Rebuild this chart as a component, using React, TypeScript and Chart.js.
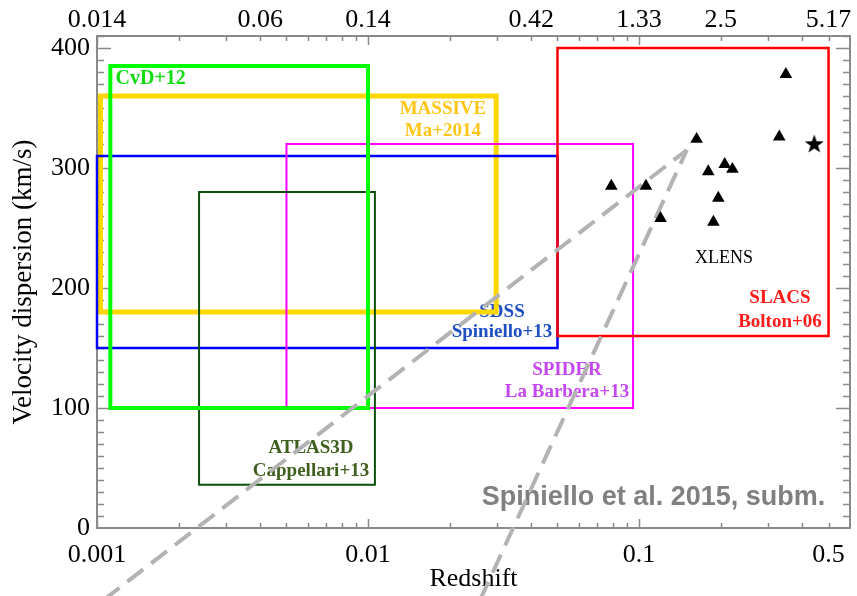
import React, { useEffect, useRef } from 'react';
import { Chart, registerables } from 'chart.js';

Chart.register(...registerables);

// ---------- axis ticks ----------
const xTickValues = [0.001, 0.01, 0.1, 0.5];
const xTickLabels = ['0.001', '0.01', '0.1', '0.5'];
const topTickValues = [0.001, 0.004, 0.01, 0.04, 0.1, 0.2, 0.5];
const topTickLabels = ['0.014', '0.06', '0.14', '0.42', '1.33', '2.5', '5.17'];
const yTickValues = [0, 100, 200, 300, 400];
const xDecades = [0.001, 0.01, 0.1];
const yMinorStep = 10;

// ---------- survey boxes ----------
const surveyNames = ['MASSIVE', 'SDSS', 'SPIDER', 'ATLAS3D', 'SLACS', 'CvD+12'];
const surveyZMin = [0.00103, 0.001, 0.005, 0.00238, 0.05, 0.00112];
const surveyZMax = [0.0297, 0.05, 0.095, 0.0106, 0.5, 0.01];
const surveySigmaMin = [180, 150, 100, 36, 160, 100];
const surveySigmaMax = [360, 310, 320, 280, 400, 385];
const surveyColors = ['#ffd700', '#0000ff', '#ff00ff', '#0b4f0b', '#ff0000', '#00ff00'];
const surveyWidths = [5, 2.5, 2, 2, 2.5, 4];

// ---------- XLENS lenses ----------
const lensZ = [0.079, 0.106, 0.12, 0.163, 0.18, 0.207, 0.221, 0.196, 0.188, 0.329, 0.348];
const lensSigma = [285, 285, 258, 324, 297, 303, 299, 275, 255, 326, 378];
const starZ = [0.443];
const starSigma = [320];

// ---------- dashed guide lines ----------
const guideAZ = [0.001058, 0.15];
const guideASigma = [-60, 315];
const guideBZ = [0.0259, 0.15];
const guideBSigma = [-60, 315];

// ---------- text labels ----------
const labelTexts = ['CvD+12', 'MASSIVE', 'Ma+2014', 'SDSS', 'Spiniello+13', 'SPIDER', 'La Barbera+13',
  'SLACS', 'Bolton+06', 'ATLAS3D', 'Cappellari+13', 'XLENS', 'Spiniello et al. 2015, subm.'];
const labelZ = [0.00117, 0.0189, 0.0189, 0.0312, 0.0312, 0.0542, 0.0542, 0.331, 0.331, 0.00616, 0.00616, 0.2056, 0.113];
const labelSigma = [374, 349, 331, 180, 163, 132, 113, 192, 172, 67, 47.5, 225, 25];
const labelColors = ['#11dd11', '#ffc61a', '#ffc61a', '#1f4fc4', '#1f4fc4', '#c447f2', '#c447f2',
  '#ff1a1a', '#ff1a1a', '#3f5f1f', '#3f5f1f', '#000000', '#808080'];
const labelFonts = ['bold 20px "Liberation Serif"', 'bold 19px "Liberation Serif"', 'bold 19px "Liberation Serif"',
  'bold 19px "Liberation Serif"', 'bold 19px "Liberation Serif"', 'bold 19px "Liberation Serif"', 'bold 19px "Liberation Serif"',
  'bold 19px "Liberation Serif"', 'bold 19px "Liberation Serif"', 'bold 19px "Liberation Serif"', 'bold 19px "Liberation Serif"',
  '18px "Liberation Serif"', 'bold 27px "Liberation Sans"'];
const labelAlign = ['left', 'center', 'center', 'center', 'center', 'center', 'center', 'center', 'center',
  'center', 'center', 'center', 'center'];

const tickFont = '26px "Liberation Serif"';

function makeStar(): HTMLCanvasElement {
  const c = document.createElement('canvas');
  c.width = 22;
  c.height = 22;
  const g = c.getContext('2d')!;
  g.fillStyle = '#000';
  g.beginPath();
  for (let i = 0; i < 10; i++) {
    const r = i % 2 === 0 ? 10 : 4;
    const a = -Math.PI / 2 + (i * Math.PI) / 5;
    const px = 11 + r * Math.cos(a);
    const py = 11.5 + r * Math.sin(a);
    if (i === 0) g.moveTo(px, py);
    else g.lineTo(px, py);
  }
  g.closePath();
  g.fill();
  return c;
}

const framePlugin = {
  id: 'frameAndLabels',
  beforeDatasetsDraw(chart: any) {
    const { ctx, chartArea: a, scales } = chart;
    const xs = scales.x;
    const ys = scales.y;
    ctx.save();
    ctx.strokeStyle = '#8a8a8a';
    ctx.lineWidth = 1.5;
    ctx.beginPath();
    for (const d of xDecades) {
      for (let m = 1; m <= 9; m++) {
        const v = d * m;
        if (v > xs.max) continue;
        const px = Math.round(xs.getPixelForValue(v)) + 0.5;
        const len = m === 1 ? 9 : 5;
        ctx.moveTo(px, a.bottom);
        ctx.lineTo(px, a.bottom - len);
        ctx.moveTo(px, a.top);
        ctx.lineTo(px, a.top + len);
      }
    }
    for (let v = yMinorStep; v <= ys.max; v += yMinorStep) {
      const py = Math.round(ys.getPixelForValue(v)) + 0.5;
      const len = v % 100 === 0 ? 14 : 7;
      ctx.moveTo(a.left, py);
      ctx.lineTo(a.left + len, py);
      ctx.moveTo(a.right, py);
      ctx.lineTo(a.right - len, py);
    }
    ctx.stroke();
    ctx.lineWidth = 2;
    ctx.strokeRect(a.left, a.top, a.right - a.left, a.bottom - a.top);

    // x tick labels (bottom and top)
    ctx.font = tickFont;
    ctx.fillStyle = '#000';
    ctx.textAlign = 'center';
    ctx.textBaseline = 'alphabetic';
    xTickValues.forEach((v, i) => {
      ctx.fillText(xTickLabels[i], xs.getPixelForValue(v), a.bottom + 34);
    });
    topTickValues.forEach((v, i) => {
      ctx.fillText(topTickLabels[i], xs.getPixelForValue(v), a.top - 9);
    });

    ctx.textBaseline = 'middle';
    for (let i = 0; i < labelTexts.length; i++) {
      ctx.font = labelFonts[i];
      ctx.fillStyle = labelColors[i];
      ctx.textAlign = labelAlign[i] as CanvasTextAlign;
      ctx.fillText(labelTexts[i], xs.getPixelForValue(labelZ[i]), ys.getPixelForValue(labelSigma[i]));
    }
    ctx.restore();
  },
};

export default function App() {
  const ref = useRef<HTMLCanvasElement>(null);
  useEffect(() => {
    document.body.style.margin = '0';
    const star = makeStar();
    const boxes = surveyNames.map((name, i) => ({
      label: name,
      data: [
        { x: surveyZMin[i], y: surveySigmaMin[i] },
        { x: surveyZMin[i], y: surveySigmaMax[i] },
        { x: surveyZMax[i], y: surveySigmaMax[i] },
        { x: surveyZMax[i], y: surveySigmaMin[i] },
        { x: surveyZMin[i], y: surveySigmaMin[i] },
      ],
      showLine: true,
      borderColor: surveyColors[i],
      borderWidth: surveyWidths[i],
      borderJoinStyle: 'miter' as const,
      borderCapStyle: 'square' as const,
      pointRadius: 0,
      fill: false,
      clip: false as any,
      order: 10 - i,
      xAxisID: 'x',
      yAxisID: 'y',
    }));
    const guides = [
      { z: guideAZ, s: guideASigma },
      { z: guideBZ, s: guideBSigma },
    ].map((g, i) => ({
      label: 'guide' + i,
      data: g.z.map((z, k) => ({ x: z, y: g.s[k] })),
      showLine: true,
      borderColor: '#b3b3b3',
      borderWidth: 4,
      borderDash: [20, 10],
      pointRadius: 0,
      fill: false,
      clip: false as any,
      order: 2,
      xAxisID: 'x',
      yAxisID: 'y',
    }));
    const lenses = {
      label: 'XLENS',
      data: lensZ.map((z, k) => ({ x: z, y: lensSigma[k] })),
      showLine: false,
      pointStyle: 'triangle' as const,
      pointRadius: 7.3,
      backgroundColor: '#000',
      borderColor: '#000',
      borderWidth: 0,
      order: 0,
      clip: false as any,
      xAxisID: 'x',
      yAxisID: 'y',
    };
    const stars = {
      label: 'star',
      data: starZ.map((z, k) => ({ x: z, y: starSigma[k] })),
      showLine: false,
      pointStyle: star as any,
      pointRadius: 10,
      order: 0,
      clip: false as any,
      xAxisID: 'x',
      yAxisID: 'y',
    };

    const serif = 'Liberation Serif';
    const chart = new Chart(ref.current!, {
      type: 'scatter',
      data: { datasets: [lenses, stars, ...guides, ...boxes] as any },
      plugins: [framePlugin],
      options: {
        animation: false,
        responsive: false,
        devicePixelRatio: 1,
        layout: { autoPadding: false, padding: { left: 0, right: 7, top: 0, bottom: 0 } },
        plugins: { legend: { display: false }, tooltip: { enabled: false } },
        scales: {
          x: {
            type: 'logarithmic',
            position: 'bottom',
            min: 0.001,
            max: 0.6,
            grid: { display: false, drawTicks: false },
            border: { display: false },
            afterBuildTicks: (s: any) => {
              s.ticks = xTickValues.map((v) => ({ value: v }));
            },
            afterFit: (s: any) => {
              s.height = 68;
              s.paddingLeft = 0;
              s.paddingRight = 0;
            },
            ticks: { display: false },
            title: {
              display: true,
              text: 'Redshift',
              color: '#000',
              font: { family: serif, size: 26 },
              padding: { top: 0, bottom: 1 },
            },
          },
          x2: {
            type: 'logarithmic',
            position: 'top',
            min: 0.001,
            max: 0.6,
            grid: { display: false, drawTicks: false },
            border: { display: false },
            afterBuildTicks: (s: any) => {
              s.ticks = topTickValues.map((v) => ({ value: v }));
            },
            afterFit: (s: any) => {
              s.height = 36;
              s.paddingLeft = 0;
              s.paddingRight = 0;
            },
            ticks: { display: false },
          },
          y: {
            type: 'linear',
            position: 'left',
            min: 0,
            max: 410,
            grid: { display: false, drawTicks: false },
            border: { display: false },
            afterBuildTicks: (s: any) => {
              s.ticks = yTickValues.map((v) => ({ value: v }));
            },
            afterFit: (s: any) => {
              s.width = 97;
              s.paddingTop = 0;
              s.paddingBottom = 0;
            },
            ticks: {
              padding: 7,
              color: '#000',
              font: { family: serif, size: 26 },
              callback: (v: any) => String(v),
            },
            title: {
              display: true,
              text: 'Velocity dispersion (km/s)',
              color: '#000',
              font: { family: serif, size: 27 },
              padding: { top: 8, bottom: 0 },
            },
          },
        } as any,
      },
    });
    return () => chart.destroy();
  }, []);

  return (
    <div style={{ position: 'absolute', left: 0, top: 0, width: 857, height: 596 }}>
      <canvas ref={ref} width={857} height={596} style={{ display: 'block' }} />
    </div>
  );
}
